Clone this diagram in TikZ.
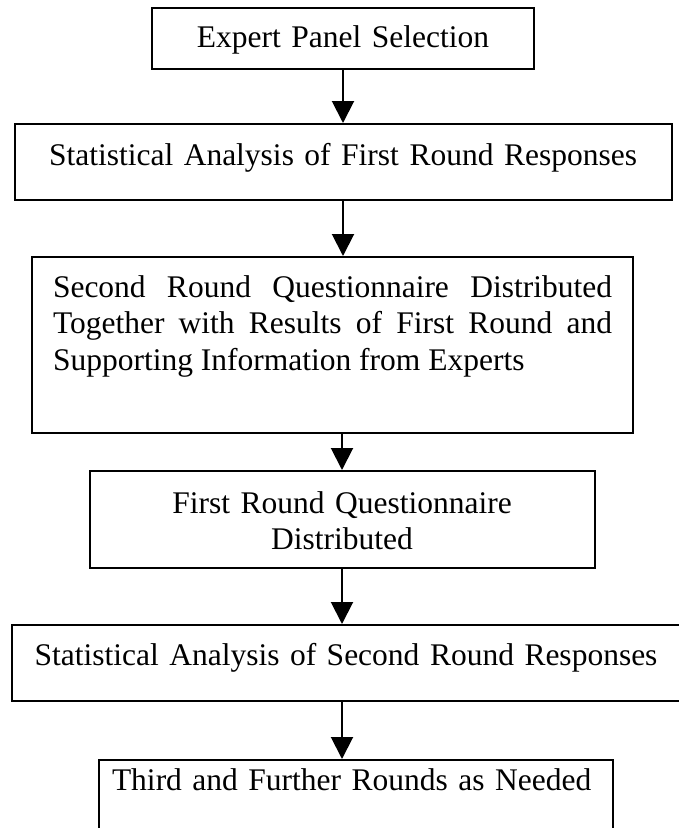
\documentclass[tikz,border=0pt]{standalone}
\usepackage{fontspec}
\setmainfont{Liberation Serif}
\usetikzlibrary{arrows.meta}
\hyphenpenalty=10000
\tolerance=9999

\begin{document}
\begin{tikzpicture}[x=1pt, y=-1pt, line width=2pt, font=\fontsize{31.5}{36.5}\selectfont, stage/.style={draw, rectangle, inner sep=0pt, align=center, anchor=base}, flow/.style={-{Triangle[length=22pt, width=22pt]}}]
	\useasboundingbox (0,0) rectangle (678,828);

	\node[stage, text width=382pt, text height=39pt, text depth=22pt] (panel) at (343,47) {Expert Panel Selection};
	\node[stage, text width=657pt, text height=41pt, text depth=35pt] (stats1) at (343,165) {Statistical Analysis of First Round Responses};
	\node[stage, inner xsep=21pt, text width=559pt, align=justify, text height=40pt, text depth=136pt] (round2) at (332.5,297) {Second Round Questionnaire Distributed Together with Results of First Round and Supporting Information from Experts};
	\node[stage, text width=505pt, text height=42pt, text depth=55pt] (round1) at (342,513) {First Round Questionnaire\\ Distributed};
	\node[stage, text width=668pt, text height=40pt, text depth=36pt] (stats2) at (346,665) {Statistical Analysis of Second Round Responses};
	\node[stage, inner xsep=13pt, text width=488pt, align=left, text height=30pt, text depth=55pt] (further) at (356,790) {Third and Further Rounds as Needed};

	\path[flow]
		(panel.south) edge (panel.south |- stats1.north)
		(stats1.south) edge (stats1.south |- round2.north)
		(round1.north |- round2.south) edge (round1.north)
		(round1.south) edge (round1.south |- stats2.north)
		(round1.south |- stats2.south) edge (round1.south |- further.north);
\end{tikzpicture}
\end{document}
